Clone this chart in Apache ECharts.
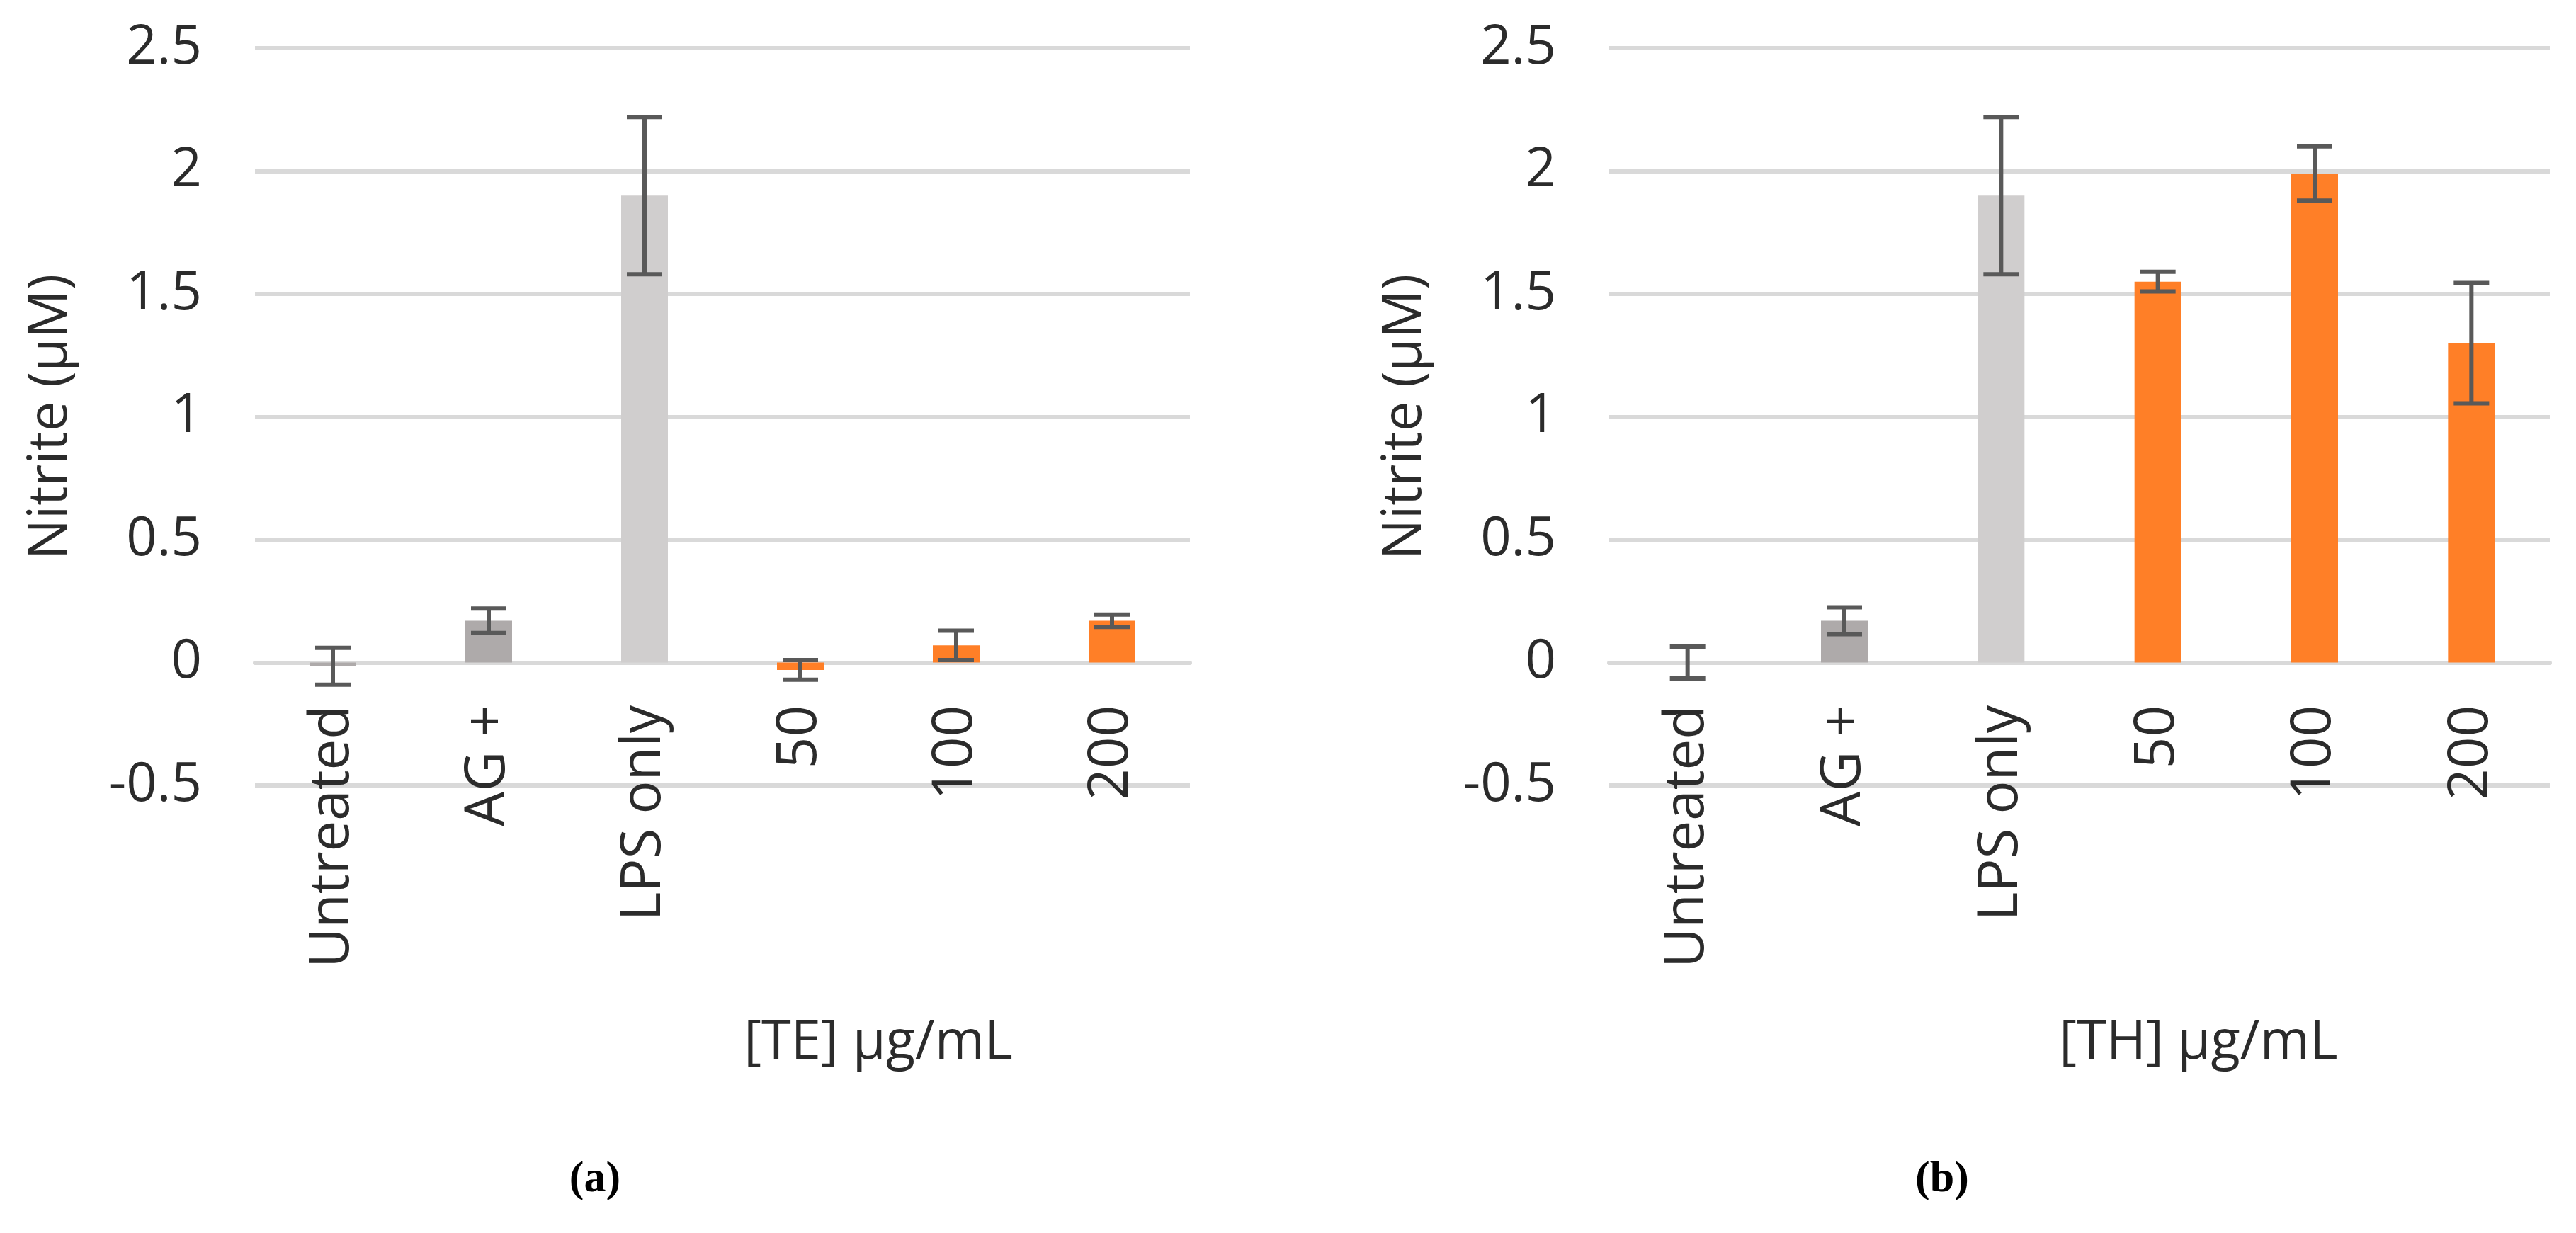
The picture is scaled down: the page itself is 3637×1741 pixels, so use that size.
<!DOCTYPE html>
<html>
<head>
<meta charset="utf-8">
<title>Nitrite</title>
<script src="https://cdn.jsdelivr.net/npm/echarts@6/dist/echarts.min.js"></script>
<style>
	html, body { margin: 0; padding: 0; background: #fff; }
	#chart { width: 3637px; height: 1741px; }
</style>
</head>
<body>
<div id="chart"></div>
<script>
// data
const categories = ["Untreated", "AG +", "LPS only", "50", "100", "200"];
const teMeans = [-0.015, 0.17, 1.9, -0.03, 0.07, 0.17];
const teErrors = [0.075, 0.05, 0.32, 0.04, 0.06, 0.025];
const thMeans = [0, 0.17, 1.9, 1.55, 1.99, 1.3];
const thErrors = [0.065, 0.055, 0.32, 0.04, 0.11, 0.245];
const barColors = ["#AEAAAA", "#AEAAAA", "#D0CECE", "#FF7F27", "#FF7F27", "#FF7F27"];
const yMin = -0.5;
const yMax = 2.5;
const yStep = 0.5;
const yName = "Nitrite (µM)";
const xNames = ["[TE] µg/mL", "[TH] µg/mL"];
const panelTags = ["a", "b"];

const FONT = "'Open Sans', sans-serif";
const TEXT = "#2b2b2b";

const myChart = echarts.init(document.getElementById("chart"));

function barData(means) {
	return means.map((v, i) => ({ value: v, itemStyle: { color: barColors[i] } }));
}

function errData(means, errs) {
	return means.map((v, i) => [i, v - errs[i], v + errs[i]]);
}

// error bar: stem plus two caps
function renderErr(params, api) {
	const x = api.value(0);
	const lo = api.coord([x, api.value(1)]);
	const hi = api.coord([x, api.value(2)]);
	const half = 25;
	const style = { stroke: "#595959", lineWidth: 6 };
	return {
		type: "group",
		children: [
			{ type: "line", shape: { x1: hi[0], y1: hi[1], x2: lo[0], y2: lo[1] }, style },
			{ type: "line", shape: { x1: hi[0] - half, y1: hi[1], x2: hi[0] + half, y2: hi[1] }, style },
			{ type: "line", shape: { x1: lo[0] - half, y1: lo[1], x2: lo[0] + half, y2: lo[1] }, style }
		]
	};
}

function xAxisOf(idx) {
	return {
		type: "category",
		gridIndex: idx,
		data: categories,
		offset: -173, // axis sits on the zero line, one step above the bottom
		axisLine: { onZero: false, lineStyle: { color: "#D9D9D9", width: 6 } },
		axisTick: { show: false },
		axisLabel: { interval: 0, rotate: 90, margin: 60, fontFamily: FONT, fontSize: 78, color: TEXT }
	};
}

function yAxisOf(idx) {
	return {
		type: "value",
		gridIndex: idx,
		min: yMin,
		max: yMax,
		interval: yStep,
		name: yName,
		nameLocation: "middle",
		nameRotate: 90,
		nameGap: 250,
		nameTextStyle: { fontFamily: FONT, fontSize: 76, color: TEXT },
		axisLine: { show: false },
		axisTick: { show: false },
		axisLabel: { margin: 75, fontFamily: FONT, fontSize: 76, color: TEXT },
		splitLine: { lineStyle: { color: "#D9D9D9", width: 6 } }
	};
}

const option = {
	animation: false,
	backgroundColor: "#fff",
	grid: [
		{ left: 360, right: 1957, top: 68, bottom: 632 },
		{ left: 2272, right: 37, top: 68, bottom: 632 }
	],
	title: [
		{ text: xNames[0], left: 1235, top: 1430, textAlign: "center",
			textStyle: { fontFamily: FONT, fontSize: 76, fontWeight: "normal", color: TEXT } },
		{ text: xNames[1], left: 3099, top: 1430, textAlign: "center",
			textStyle: { fontFamily: FONT, fontSize: 76, fontWeight: "normal", color: TEXT } },
		{ text: "{n|(}{b|" + panelTags[0] + "}{n|)}", left: 835, top: 1630, textAlign: "center",
			textStyle: { rich: {
				n: { fontFamily: "'Liberation Serif', serif", fontSize: 62, color: "#000" },
				b: { fontFamily: "'Liberation Serif', serif", fontSize: 62, fontWeight: "bold", color: "#000" } } } },
		{ text: "{n|(}{b|" + panelTags[1] + "}{n|)}", left: 2737, top: 1630, textAlign: "center",
			textStyle: { rich: {
				n: { fontFamily: "'Liberation Serif', serif", fontSize: 62, color: "#000" },
				b: { fontFamily: "'Liberation Serif', serif", fontSize: 62, fontWeight: "bold", color: "#000" } } } }
	],
	xAxis: [xAxisOf(0), xAxisOf(1)],
	yAxis: [yAxisOf(0), yAxisOf(1)],
	series: [
		{ type: "bar", xAxisIndex: 0, yAxisIndex: 0, barWidth: 66, data: barData(teMeans) },
		{ type: "bar", xAxisIndex: 1, yAxisIndex: 1, barWidth: 66, data: barData(thMeans) },
		{ type: "custom", xAxisIndex: 0, yAxisIndex: 0, renderItem: renderErr,
			encode: { x: 0, y: [1, 2] }, data: errData(teMeans, teErrors), z: 5 },
		{ type: "custom", xAxisIndex: 1, yAxisIndex: 1, renderItem: renderErr,
			encode: { x: 0, y: [1, 2] }, data: errData(thMeans, thErrors), z: 5 }
	]
};
myChart.setOption(option);
</script>
</body>
</html>
